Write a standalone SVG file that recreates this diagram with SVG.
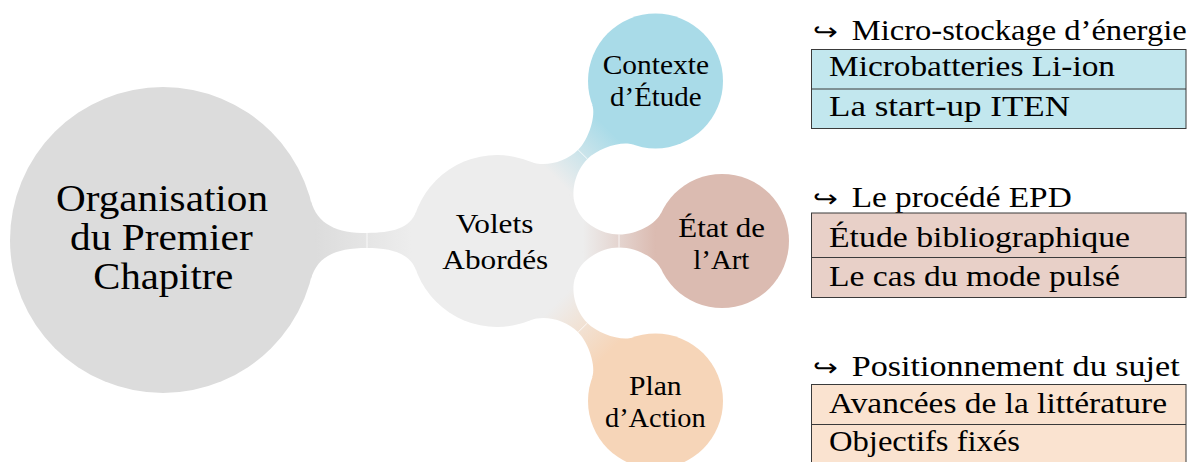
<svg xmlns="http://www.w3.org/2000/svg" width="1197" height="462" viewBox="0 0 1197 462">
<style>
.box{stroke:#3a3a3a;stroke-width:1;}
.div{stroke:#3a3a3a;stroke-width:1;}
.tick{stroke:#ffffff;stroke-width:1;opacity:0.8;}
</style>
<defs>
<linearGradient id="g1" gradientUnits="userSpaceOnUse" x1="316" y1="240" x2="411" y2="240">
<stop offset="0" stop-color="#dcdcdc"/><stop offset="1" stop-color="#ededed"/></linearGradient>
<linearGradient id="g2" gradientUnits="userSpaceOnUse" x1="557.5" y1="179.9" x2="608" y2="129">
<stop offset="0" stop-color="#ededed"/><stop offset="1" stop-color="#a9dbe8"/></linearGradient>
<linearGradient id="g3" gradientUnits="userSpaceOnUse" x1="583" y1="241" x2="655" y2="241">
<stop offset="0" stop-color="#ededed"/><stop offset="1" stop-color="#dbbbb1"/></linearGradient>
<linearGradient id="g4" gradientUnits="userSpaceOnUse" x1="557.5" y1="302.1" x2="608" y2="353">
<stop offset="0" stop-color="#ededed"/><stop offset="1" stop-color="#f6d5b8"/></linearGradient>
</defs>

<g id="connectors">
<path fill="url(#g1)" d="M310.8 200.4 C317.3 224.5 337 233 367 233 C392 233 410 228.5 416.2 211.6 L416.2 270.4 C410 253.5 392 248 367 248 C337 248 317.3 255.5 310.8 279.6 Z"/>
<path fill="url(#g2)" d="M530.23 161.67 C544.1 167.5 565.48 162.65 578.15 149.86 C588.71 139.2 596.3 115.6 592.17 104.38 L632.71 144.54 C621.4 140.5 597.95 148.34 587.39 159 C574.72 171.79 570.1 193.2 576.01 207.03 Z"/>
<path fill="url(#g3)" d="M576.74 208.78 C582.36 222.69 601 234.5 619 234.5 C637 234.5 656.2 223.6 661.28 212.69 L661.28 269.31 C656.2 258.4 637 247.5 619 247.5 C601 247.5 582.36 259.31 576.74 273.22 Z"/>
<path fill="url(#g4)" d="M576.01 274.97 C570.08 288.75 574.72 310.21 587.39 323 C597.95 333.66 621.42 341.51 632.71 337.46 L592.17 377.62 C596.33 366.36 588.71 342.8 578.15 332.14 C565.48 319.35 544.06 314.53 530.23 320.33 Z"/>
<line class="tick" x1="367" y1="233" x2="367" y2="248"/>
<line class="tick" x1="578.15" y1="149.86" x2="587.39" y2="159"/>
<line class="tick" x1="619" y1="234.5" x2="619" y2="247.5"/>
<line class="tick" x1="578.15" y1="332.14" x2="587.39" y2="323"/>
</g>

<g id="node-organisation">
<circle cx="163" cy="240" r="153" fill="#dcdcdc"/>
<text font-family="Liberation Serif" font-size="38" fill="#000" x="56" y="211" textLength="212" lengthAdjust="spacingAndGlyphs">Organisation</text>
<text font-family="Liberation Serif" font-size="38" fill="#000" x="70" y="250" textLength="182.7" lengthAdjust="spacingAndGlyphs">du Premier</text>
<text font-family="Liberation Serif" font-size="38" fill="#000" x="93.3" y="289" textLength="140" lengthAdjust="spacingAndGlyphs">Chapitre</text>
</g>

<g id="node-volets">
<circle cx="497" cy="241" r="86" fill="#ededed"/>
<text font-family="Liberation Serif" font-size="28" fill="#000" x="455.7" y="233" textLength="77.7" lengthAdjust="spacingAndGlyphs">Volets</text>
<text font-family="Liberation Serif" font-size="28" fill="#000" x="442.3" y="269" textLength="106" lengthAdjust="spacingAndGlyphs">Abordés</text>
</g>

<g id="node-contexte">
<circle cx="655.5" cy="81" r="67.5" fill="#a9dbe8"/>
<text font-family="Liberation Serif" font-size="27" fill="#000" x="602.7" y="74" textLength="106.3" lengthAdjust="spacingAndGlyphs">Contexte</text>
<text font-family="Liberation Serif" font-size="27" fill="#000" x="610" y="106" textLength="91.7" lengthAdjust="spacingAndGlyphs">d’Étude</text>
</g>

<g id="node-etat">
<circle cx="722" cy="241" r="67" fill="#dbbbb1"/>
<text font-family="Liberation Serif" font-size="27" fill="#000" x="678.3" y="237.3" textLength="86.7" lengthAdjust="spacingAndGlyphs">État de</text>
<text font-family="Liberation Serif" font-size="27" fill="#000" x="693.3" y="269.3" textLength="56" lengthAdjust="spacingAndGlyphs">l’Art</text>
</g>

<g id="node-plan">
<circle cx="655.5" cy="401" r="67.5" fill="#f6d5b8"/>
<text font-family="Liberation Serif" font-size="27" fill="#000" x="629" y="395" textLength="52.7" lengthAdjust="spacingAndGlyphs">Plan</text>
<text font-family="Liberation Serif" font-size="27" fill="#000" x="605" y="426.7" textLength="100.7" lengthAdjust="spacingAndGlyphs">d’Action</text>
</g>

<g id="box-contexte">
<text font-family="DejaVu Sans" font-size="24" fill="#000" x="813" y="40" textLength="25" lengthAdjust="spacingAndGlyphs">↪</text>
<text font-family="Liberation Serif" font-size="30" fill="#000" x="851.7" y="40" textLength="335" lengthAdjust="spacingAndGlyphs">Micro-stockage d’énergie</text>
<rect class="box" x="811.5" y="49.5" width="374.5" height="79" fill="#c2e7ee"/>
<line class="div" x1="811.5" y1="89" x2="1186" y2="89"/>
<text font-family="Liberation Serif" font-size="30" fill="#000" x="829" y="76" textLength="286" lengthAdjust="spacingAndGlyphs">Microbatteries Li-ion</text>
<text font-family="Liberation Serif" font-size="30" fill="#000" x="829" y="116" textLength="241" lengthAdjust="spacingAndGlyphs">La start-up ITEN</text>
</g>

<g id="box-etat">
<text font-family="DejaVu Sans" font-size="24" fill="#000" x="813" y="206.7" textLength="25" lengthAdjust="spacingAndGlyphs">↪</text>
<text font-family="Liberation Serif" font-size="30" fill="#000" x="851.7" y="206.7" textLength="220" lengthAdjust="spacingAndGlyphs">Le procédé EPD</text>
<rect class="box" x="811.5" y="213" width="374.5" height="84.5" fill="#e8d0c8"/>
<line class="div" x1="811.5" y1="257.5" x2="1186" y2="257.5"/>
<text font-family="Liberation Serif" font-size="30" fill="#000" x="829" y="246.7" textLength="301" lengthAdjust="spacingAndGlyphs">Étude bibliographique</text>
<text font-family="Liberation Serif" font-size="30" fill="#000" x="829" y="286" textLength="291" lengthAdjust="spacingAndGlyphs">Le cas du mode pulsé</text>
</g>

<g id="box-plan">
<text font-family="DejaVu Sans" font-size="24" fill="#000" x="813" y="375.7" textLength="25" lengthAdjust="spacingAndGlyphs">↪</text>
<text font-family="Liberation Serif" font-size="30" fill="#000" x="851.7" y="375.7" textLength="328" lengthAdjust="spacingAndGlyphs">Positionnement du sujet</text>
<rect class="box" x="811.5" y="384.5" width="374.5" height="82" fill="#fae3d0"/>
<line class="div" x1="811.5" y1="424.5" x2="1186" y2="424.5"/>
<text font-family="Liberation Serif" font-size="30" fill="#000" x="829" y="413.3" textLength="338" lengthAdjust="spacingAndGlyphs">Avancées de la littérature</text>
<text font-family="Liberation Serif" font-size="30" fill="#000" x="829" y="451" textLength="191" lengthAdjust="spacingAndGlyphs">Objectifs fixés</text>
</g>
</svg>
